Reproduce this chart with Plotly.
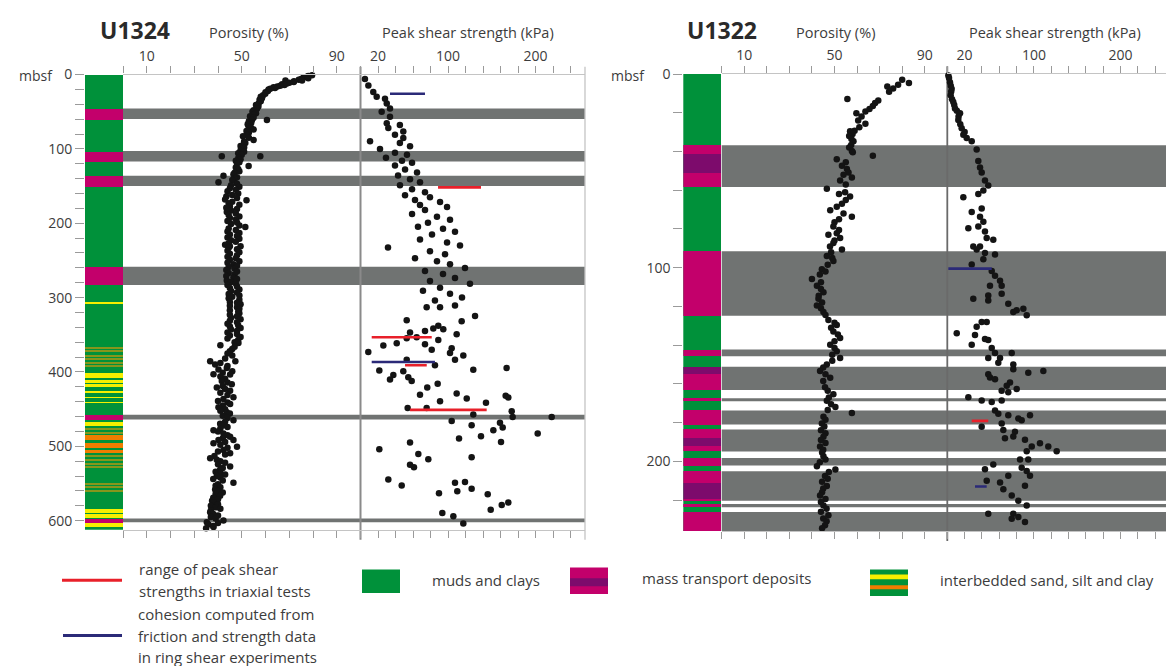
import plotly.graph_objects as go

# ------------------------------------------------------------------
# Canvas helpers (pixel -> paper fraction)
# ------------------------------------------------------------------
W, H = 1166, 666


def px_x(p):
    return p / W


def px_y(p):
    return 1 - p / H


FONT = "Open Sans"
TXT = "#3c3c3c"
GREEN = "#00913a"
MAGENTA = "#c3006b"
PURPLE = "#7d0b6c"
YELLOW = "#f6ef00"
ORANGE = "#ef7d00"
OLIVE = "#86961c"
BAND = "#707372"
RED = "#e8202a"
NAVY = "#2b2a78"

# ------------------------------------------------------------------
# Site U1324 data
# ------------------------------------------------------------------
u1324_depth_max = 612.2

# lithology intervals (top, base) in mbsf
u1324_mud = [(0, 612.2)]
u1324_mtd = [(45.7, 59.9), (103, 117), (136, 150), (258.5, 283), (457.5, 464), (597, 602)]
u1324_sand = [(306.5, 308), (401, 407), (410, 414), (416, 420), (426, 427), (433, 434),
              (440, 441), (467, 472), (584, 589), (591, 596), (603, 608)]
u1324_silt = [(484, 491), (495, 502), (504, 508)]
u1324_thin = [(366, 367.5), (371, 372.5), (377, 378.5), (381, 382.5), (387, 388.5),
              (391, 392.5), (476, 477.5), (480.5, 482), (512, 513.5), (517, 518.5),
              (522, 523.5), (527, 528.5), (549, 550.5), (553, 554.5), (559, 560.5)]

# porosity (%) : (depth mbsf, value)
u1324_porosity = [
    (1, 79.6), (2, 78), (3, 77.5), (4, 76), (5, 78), (6, 75), (7, 74), (8, 75.4), (8, 68.4), (9, 72),
    (10, 71.9), (11, 70), (12, 69), (13, 67), (14, 68), (15, 66.2), (16, 65), (17, 63.4), (18, 64), (19, 62),
    (20, 61.3), (22, 61), (24, 60), (26, 59.9), (28, 59), (30, 58), (32, 58.5), (34, 57.5), (36, 58), (39, 57.1),
    (41, 56), (43, 57), (46, 56.4), (48, 55), (50, 54.5), (52, 56), (54, 55), (56, 53.5), (58, 55), (61, 54.3),
    (61, 60.6), (63, 53), (65, 54), (67, 52.5), (70, 52.9), (72, 54), (74, 55), (76, 52), (78, 53), (81, 52.1),
    (83, 50.5), (85, 53), (88, 55), (90, 51), (92, 51.5), (94, 50.8), (96, 49.5), (98, 51), (100, 50), (102, 49.5),
    (104, 51), (106, 48.5), (108, 50), (110, 41.6), (110, 57.8), (112, 48.6), (114, 49.5), (116, 47.5), (118, 49),
    (120, 48), (123, 52.9), (125, 47.5), (127, 48.5), (130, 49), (132, 47), (134, 46.5), (136, 42.3), (138, 48),
    (140, 47), (142, 46), (145, 40.2), (147, 48), (149, 45.5),
    (151, 49), (153, 45), (155, 47.5), (157, 44), (160, 48.5), (162, 46), (164, 43.5), (166, 48), (168, 43),
    (169, 52), (171, 46), (173, 44.5), (175, 49), (177, 45), (179, 43.5), (181, 48), (183, 45.5), (185, 43.7),
    (187, 47.5), (189, 44.5), (191, 49), (193, 45), (195, 47.5), (197, 44), (199, 48), (201, 45.5), (203, 49),
    (205, 51.5), (207, 44.5), (209, 47.5), (211, 44), (213, 49), (215, 45), (217, 48), (219, 44), (221, 49),
    (223, 45.5), (225, 47.5), (227, 44.5), (229, 43), (231, 45), (231, 49.5), (233, 44.5), (235, 48), (237, 44),
    (239, 49), (241, 45), (243, 48), (245, 44), (247, 47.5), (249, 45), (251, 49), (253, 44), (255, 46.5),
    (257, 48), (259, 44.5), (261, 47), (263, 43.5), (265, 48), (267, 44.5), (269, 47), (271, 43.5), (273, 46.5),
    (275, 48), (277, 43.7), (279, 45.5), (281, 47.5), (283, 44), (285, 48), (287, 45), (289, 49), (291, 45.5),
    (293, 48), (295, 44.5), (297, 49), (299, 46), (301, 44.5), (303, 49), (306, 45), (307, 48), (309, 49.5),
    (311, 45), (313, 48), (315, 49), (317, 45), (319, 48.5), (321, 49), (323, 45), (325, 48), (327, 45.5),
    (329, 49.5), (331, 45), (333, 48), (335, 44), (337, 48.5), (339, 45), (341, 49.5), (343, 45.5), (345, 48),
    (347, 44), (349, 48), (351, 45), (353, 49.5), (355, 44), (357, 48.5), (360, 47),
    (361, 48.6), (364, 41), (366, 47), (369, 46), (372, 45), (375, 44), (378, 46), (382, 43), (385.6, 36.7),
    (385.6, 47.3), (388, 41), (390, 38.8), (392, 44), (394.5, 43.7), (396.7, 40.2), (399, 46), (401, 42),
    (403, 38.1), (403.3, 45.1), (406, 41), (409, 43), (412, 41.6), (414, 44), (416.6, 45.8), (419, 42),
    (421, 39.5), (423, 43), (425.4, 45.1), (428, 41), (431, 44), (434, 46.5), (436.4, 42.3), (439, 40),
    (441, 44), (443, 45.1), (445, 42), (447.4, 40.2), (450, 43), (452, 41), (454, 43.7), (456, 45), (459, 42),
    (462, 44), (465, 46.5), (467, 43), (469.5, 40.9), (472, 42), (474, 44), (476, 41), (478.4, 38.1), (480, 40),
    (482.8, 42.3), (485, 44), (487.2, 45.1), (489, 42), (491.6, 40.2), (491.6, 46.5), (494, 43), (496, 38.1),
    (498, 41), (500.4, 48), (502, 44), (505, 42.3), (507, 40), (509.3, 45.1), (511, 43), (513, 38.5),
    (516, 36.7), (518, 39.5), (520, 41), (522, 43), (524, 40), (527, 45.1), (529, 42), (531.4, 40.9), (534, 39),
    (536, 41), (538, 43), (540, 39.5), (542, 41), (544, 38), (546, 42), (549, 46.5), (551, 40), (553, 39),
    (555, 41), (558, 38.8), (560, 40), (562, 42), (564, 39), (566.6, 40.9), (569, 38), (571, 40), (573, 37.5),
    (575.5, 38.1), (578, 40), (580, 37), (582, 39), (584, 41), (586, 37), (588.7, 36.7), (591, 38), (593, 40),
    (595, 37), (597, 39), (599.7, 42.3), (602, 35.3), (603, 40), (605, 36), (607, 38), (608.6, 38.1), (610, 35),
]

# peak shear strength (kPa) : (depth mbsf, value)
u1324_shear = [
    (6, 5.1), (14.8, 9), (23.6, 14.6), (30, 18.5), (32.5, 28), (39, 30), (45.7, 33.7), (50, 24.2), (56.7, 33.7),
    (65.6, 30), (67.8, 45), (72, 31.8), (76.6, 48.9), (81, 39.4), (85.4, 48.9), (89.8, 10.9), (92, 45), (96.4, 56.6),
    (100, 22.3), (105.3, 39.4), (108, 53.1), (112, 29.1), (116, 47.4), (118.5, 58.9), (122.5, 39.4), (127.8, 50.9),
    (131.8, 64.6), (135.8, 42.9), (141, 56.6), (145, 68), (149, 45.1), (154.3, 58.9), (158.3, 73.7), (162.3, 50.9),
    (165, 79.4), (168.9, 62.3), (171.5, 90.9), (175.5, 68), (178.1, 98.9), (182.1, 73.7), (187.4, 58.9),
    (191.4, 87.4), (195.4, 102.3), (199.3, 77.1), (204.6, 65.7), (207.3, 94.3), (211.3, 108), (215.2, 81.7),
    (221.9, 68), (225.8, 98.9), (229.8, 113.7), (232.5, 31.4), (237.7, 79.4), (241.7, 96.6), (247, 62.3),
    (251, 87.4), (255, 102.3), (260.3, 119.4), (264.2, 73.7), (268.2, 94.3), (273.5, 108), (277.5, 79.4),
    (281.5, 125.1), (286.8, 90.9), (290.7, 71.4), (294.7, 102.3), (300, 116), (304, 85.1), (310.6, 108),
    (312.8, 75.6), (312.8, 90.9), (324.7, 130.9), (330.5, 52.8), (331.8, 115.6), (346.8, 56.6), (345, 73.7),
    (341.5, 83.2), (338, 88.9), (342.4, 94.6), (349.4, 109.9), (364.5, 26.1), (361.4, 41.4), (354.7, 52.8),
    (353.4, 64.2), (362.7, 73.7), (370.2, 81.4), (357, 88.9), (368, 104.2), (374.6, 102.3), (377.7, 117.5),
    (383.4, 108), (373.3, 8.9), (383.4, 52.8), (391, 85.1), (397, 128.9), (394.5, 167), (398, 21.5), (399, 48.9),
    (404.2, 37.5), (410, 33.7), (407, 54.6), (412.2, 58.5), (430.7, 68), (421, 76.3), (415.7, 88.2),
    (428.9, 109.9), (435.5, 121.4), (441.3, 143.4), (432, 165.9), (434.2, 168.9), (448.3, 53.9), (448.3, 75.6),
    (439.5, 90.9), (457.2, 128.9), (452.7, 172.8), (460.7, 173.9), (460.7, 218.5), (466, 104.2), (471.7, 127),
    (468.2, 159.4), (478.4, 151.8), (474.8, 162.5), (494.3, 160.6), (486.3, 137.7), (489.4, 112.6),
    (482.8, 202.5), (504, 21.5), (495, 56.6), (510.2, 66.1), (517.2, 77.5), (524.8, 56.6), (528.2, 61.1),
    (514.6, 127), (544.6, 31.8), (552.6, 47.1), (549, 108), (548.1, 119.4), (560.5, 110.6), (557, 127),
    (563.2, 89.7), (564.5, 145.4), (585.2, 148.8), (579, 161.4), (575.5, 168.9), (589.7, 93.5), (594, 106.1),
    (603.7, 117.5),
]

# triaxial peak-strength ranges and ring-shear cohesion (depth, low kPa, high kPa)
u1324_triaxial = [(151.7, 88.6, 137.7), (353.4, 12.8, 81.4), (391, 50.9, 75.7), (451, 56.6, 144.2)]
u1324_ring = [(25.8, 33.7, 73.7), (386.5, 12.8, 85.1)]

# ------------------------------------------------------------------
# Site U1322 data
# ------------------------------------------------------------------
u1322_depth_max = 236

u1322_mud = [(0, 236)]
u1322_mtd = [(36.8, 41.5), (51.3, 58.4), (91.5, 124.8), (142.3, 145.7), (155, 163.2), (167.4, 169),
             (173.7, 181), (183.5, 188.1), (192.3, 194.9), (198.3, 202.2), (205.1, 211),
             (219.5, 220.3), (222, 223.7), (226.2, 236)]
u1322_mtd_dark = [(41.5, 51.3), (151.1, 155), (188.1, 192.3), (211, 219.5)]

u1322_porosity = [
    (3, 80), (4.6, 83), (5.5, 78.2), (6.4, 73.4), (7.5, 76), (9.2, 74.2), (12.9, 55.7), (13.7, 69.4), (15, 68),
    (16.5, 67), (18, 65.5), (19.3, 63.7), (20.2, 59.7), (22, 62), (24, 60.5), (25.7, 63.7), (27.5, 61),
    (29.3, 58.9), (29.6, 56.9), (31, 58), (32, 56.5), (33.5, 57.5), (34.7, 58.4), (36.6, 57.4), (38, 56.5),
    (39.8, 57.7), (40.4, 58.1), (42.2, 67), (44, 51), (45.5, 55), (47.4, 53.3), (49, 55.5), (50.8, 56.2),
    (52, 54), (53.4, 57.7), (55, 52.5), (57, 55), (59.3, 46.6), (61, 54.7), (62, 52), (63.3, 56.9), (65, 55),
    (67, 53.3), (68.5, 51), (70.3, 48.1), (72, 54), (73.7, 57.7), (75, 52), (76.5, 50), (78.8, 49.5),
    (80.5, 52), (82.2, 51), (83, 47.3), (84.7, 52.5), (86, 50), (87.3, 49.5), (89, 48), (90.6, 53.3), (92, 48.5),
    (94, 46.6), (95, 49), (96.6, 49.5), (98.5, 47), (100.8, 44.4), (102, 46), (103.5, 43.5), (105.9, 40),
    (107.5, 44), (109.3, 42.2), (111, 44), (112.7, 45.1), (114.5, 43), (116, 42.9), (118, 44.5), (119.5, 42.2),
    (121, 44), (122.9, 45.1), (124.5, 46), (127, 47.3), (128.5, 50), (129.6, 51), (131, 48.5), (133, 49.5),
    (134.5, 51.5), (136.3, 52.5), (138, 50), (139.8, 48.1), (141.5, 50), (143.2, 51), (145, 49), (146.6, 52.5),
    (148, 49), (150, 46.6), (151.5, 45), (153.4, 43.6), (155, 46), (156.8, 48.1), (158.5, 45), (161.8, 45.8),
    (163.5, 47), (165.3, 49.5), (167, 47.5), (168.7, 46.6), (170.5, 48.5), (172, 50.4), (173.5, 47), (175, 57.7),
    (177, 45.1), (178.5, 46), (180.5, 44.4), (182, 45.5), (184, 44), (185.5, 46), (187.3, 45.1), (189, 44),
    (190.5, 46), (192.3, 43.6), (194, 45), (195.5, 44.5), (197.4, 45.1), (199, 46), (200.5, 43.5), (202.5, 42.2),
    (204.2, 50.4), (205.5, 47.5), (207.6, 45.8), (209, 47), (210.5, 44.5), (212.7, 46.6), (214, 45),
    (216, 44.5), (217.7, 43.6), (219.5, 46), (221, 44), (222.8, 45.1), (224.5, 46.5), (226, 44), (227.9, 47.3),
    (229.5, 45), (231, 46.5), (233, 45.8), (234.5, 44.5),
]

u1322_shear = [
    (0.8, 1.2), (2, 2), (4.2, 3.1), (6, 4), (7.6, 5), (9, 4.5), (11, 3.9), (13, 5.5), (14.4, 6.9), (16, 8),
    (17.8, 8.9), (19, 11), (20.3, 14.7), (22, 13), (23.7, 12.7), (26, 15), (28, 16.6), (30, 20), (31.4, 18.5),
    (33, 22.4), (34.7, 28.2), (39, 33.9), (44.9, 35.8), (48.3, 37.8), (50.8, 39.7), (55, 43.5), (57.6, 47.3),
    (60.1, 41.6), (61.9, 35.8), (63.6, 18.5), (69.5, 39.7), (71.2, 28.2), (73.7, 37.8), (76.3, 41.6),
    (79.7, 24.3), (78.8, 35.8), (81.3, 43.5), (84.7, 45.5), (85.6, 53.1), (89, 30), (89, 37.8), (90.6, 33.9),
    (92.4, 43.5), (93.2, 55.1), (95.7, 41.6), (98.3, 28.2), (101.7, 51.3), (104.2, 55.1), (106.8, 60.9),
    (109.3, 49.3), (109.3, 62.8), (113.5, 62.8), (114.4, 47.3), (116.1, 30), (116.9, 47.3), (118.6, 70.4),
    (122, 80.1), (122.9, 76.2), (121.2, 87.8), (124.6, 91.7), (128, 39.7), (128, 45.5), (130.5, 33.9),
    (133.9, 10.9), (134.7, 32), (136.8, 43.5), (137.3, 47.3), (139.8, 28.2), (141.5, 51.3), (144, 55.1),
    (144, 74.4), (146.6, 47.3), (146.6, 60.9), (149.1, 58.9), (150, 76.2), (152.5, 76.2), (154.2, 93.5),
    (153.3, 110.9), (155, 47.3), (156.7, 49.3), (157.6, 55.1), (159.3, 72.4), (161, 68.6), (162.7, 80.1),
    (163.5, 62.8), (164.3, 70.4), (166.9, 24.3), (168.6, 39.7), (169.4, 51.3), (168.6, 62.8), (173.7, 55.1),
    (175.4, 58.9), (176.2, 70.4), (177.9, 82), (176.2, 95.5), (178.8, 85.9), (182.1, 39.7), (180.5, 62.8),
    (183.8, 64.7), (184.7, 78.2), (187.2, 76.2), (188.1, 66.6), (188.9, 89.7), (192.3, 97.5), (194.8, 91.7),
    (190.6, 107), (192.3, 116.6), (194.8, 126.3), (199, 84), (199, 93.5), (201.6, 53.1), (204.1, 43.5),
    (203.3, 85.9), (205, 91.7), (207.5, 70.4), (207.5, 95.5), (210.9, 60.9), (210, 45.5), (212.6, 89.7),
    (214.4, 64.7), (217.7, 74.4), (220.3, 82), (222.8, 91.7), (227.1, 47.3), (227.1, 76.2), (228.8, 82),
    (231.3, 89.7), (229.6, 74.4),
]

u1322_triaxial = [(179.1, 28.2, 47.3)]
u1322_ring = [(100.5, 1.2, 51.3), (213, 32, 45.5)]

# ------------------------------------------------------------------
# Track geometry (pixels)
# ------------------------------------------------------------------
L_LITHO = (85, 123)
L_POR = (123, 360.5)
L_SHEAR = (360.5, 585)
L_TOP, L_BOT = 65.5, 527.7
R_LITHO = (683.3, 721.7)
R_POR = (721.7, 947.3)
R_SHEAR = (947.3, 1166)
R_TOP, R_BOT = 65, 529

L_SHEAR_MAX = (585 - 360.5) / 0.875
R_SHEAR_MAX = (1166 - 947.3) / 0.866


def litho_bar(intervals, color, xa, ya):
    return go.Bar(
        x=[0.5] * len(intervals),
        y=[b - t for t, b in intervals],
        base=[t for t, b in intervals],
        width=[1] * len(intervals),
        marker=dict(color=color, line=dict(width=0)),
        xaxis=xa, yaxis=ya, hoverinfo="skip", showlegend=False,
    )


def points(pairs, xa, ya):
    return go.Scatter(
        x=[v for d, v in pairs], y=[d for d, v in pairs], mode="markers",
        marker=dict(size=6.5, color="#141414", line=dict(width=0)),
        xaxis=xa, yaxis=ya, hoverinfo="skip", showlegend=False, cliponaxis=False,
    )


def ranges(rows, color, xa, ya):
    xs, ys = [], []
    for d, lo, hi in rows:
        xs += [lo, hi, None]
        ys += [d, d, None]
    return go.Scatter(x=xs, y=ys, mode="lines", line=dict(color=color, width=2.6),
                      xaxis=xa, yaxis=ya, hoverinfo="skip", showlegend=False)


def merge(intervals):
    out = []
    for t, b in sorted(intervals):
        if out and t <= out[-1][1] + 0.05:
            out[-1] = (out[-1][0], max(out[-1][1], b))
        else:
            out.append((t, b))
    return out


fig = go.Figure()

# lithology columns
fig.add_trace(litho_bar(u1324_mud, GREEN, "x", "y"))
fig.add_trace(litho_bar(u1324_thin, OLIVE, "x", "y"))
fig.add_trace(litho_bar(u1324_sand, YELLOW, "x", "y"))
fig.add_trace(litho_bar(u1324_silt, ORANGE, "x", "y"))
fig.add_trace(litho_bar(u1324_mtd, MAGENTA, "x", "y"))
fig.add_trace(litho_bar(u1322_mud, GREEN, "x4", "y2"))
fig.add_trace(litho_bar(u1322_mtd, MAGENTA, "x4", "y2"))
fig.add_trace(litho_bar(u1322_mtd_dark, PURPLE, "x4", "y2"))

# measurements
fig.add_trace(points(u1324_porosity, "x2", "y"))
fig.add_trace(points(u1324_shear, "x3", "y"))
fig.add_trace(ranges(u1324_triaxial, RED, "x3", "y"))
fig.add_trace(ranges(u1324_ring, NAVY, "x3", "y"))
fig.add_trace(points(u1322_porosity, "x5", "y2"))
fig.add_trace(points(u1322_shear, "x6", "y2"))
fig.add_trace(ranges(u1322_triaxial, RED, "x6", "y2"))
fig.add_trace(ranges(u1322_ring, NAVY, "x6", "y2"))

# ------------------------------------------------------------------
# Shapes: MTD bands across the tracks, track borders, legend swatches
# ------------------------------------------------------------------
shapes = []
for t, b in merge(u1324_mtd):
    shapes.append(dict(type="rect", xref="paper", yref="y", x0=px_x(L_POR[0]), x1=px_x(L_SHEAR[1]),
                       y0=t, y1=b, fillcolor=BAND, line=dict(width=0), layer="below"))
for t, b in merge(u1322_mtd + u1322_mtd_dark):
    shapes.append(dict(type="rect", xref="paper", yref="y2", x0=px_x(R_POR[0]), x1=1.0,
                       y0=t, y1=b, fillcolor=BAND, line=dict(width=0), layer="below"))

for xp, col, wid in [(L_SHEAR[0], "#8a8a8a", 2), (L_SHEAR[1], "#c4c4c4", 1.3),
                     (R_SHEAR[0], "#6a6a6a", 1.8)]:
    top, bot = (L_TOP, L_BOT) if xp < 600 else (R_TOP, R_BOT)
    shapes.append(dict(type="line", xref="paper", yref="paper", x0=px_x(xp), x1=px_x(xp),
                       y0=px_y(top - 8), y1=px_y(bot + 10), line=dict(color=col, width=wid),
                       layer="below"))

# legend swatches
shapes += [
    dict(type="line", xref="paper", yref="paper", x0=px_x(62), x1=px_x(122), y0=px_y(579), y1=px_y(579),
         line=dict(color=RED, width=3)),
    dict(type="line", xref="paper", yref="paper", x0=px_x(63), x1=px_x(122), y0=px_y(635), y1=px_y(635),
         line=dict(color=NAVY, width=3)),
    dict(type="rect", xref="paper", yref="paper", x0=px_x(362), x1=px_x(400), y0=px_y(592), y1=px_y(568),
         fillcolor=GREEN, line=dict(width=0)),
    dict(type="rect", xref="paper", yref="paper", x0=px_x(570), x1=px_x(608), y0=px_y(593), y1=px_y(566),
         fillcolor=MAGENTA, line=dict(width=0)),
    dict(type="rect", xref="paper", yref="paper", x0=px_x(570), x1=px_x(608), y0=px_y(585), y1=px_y(577),
         fillcolor=PURPLE, line=dict(width=0)),
    dict(type="rect", xref="paper", yref="paper", x0=px_x(870), x1=px_x(908), y0=px_y(595), y1=px_y(568),
         fillcolor=GREEN, line=dict(width=0)),
    dict(type="rect", xref="paper", yref="paper", x0=px_x(870), x1=px_x(908), y0=px_y(578), y1=px_y(573),
         fillcolor=YELLOW, line=dict(width=0)),
    dict(type="rect", xref="paper", yref="paper", x0=px_x(870), x1=px_x(908), y0=px_y(588), y1=px_y(584),
         fillcolor=ORANGE, line=dict(width=0)),
]


def note(text, x, y, size=14, xanchor="center", color=TXT):
    return dict(text=text, x=px_x(x), y=px_y(y), xref="paper", yref="paper", showarrow=False,
                xanchor=xanchor, yanchor="middle", font=dict(family=FONT, size=size, color=color))


LEG = 15
annotations = [
    note("<b>U1324</b>", 135, 20, size=23, color="#2a2a2a"),
    note("Porosity (%)", 248, 23, size=14.5),
    note("Peak shear strength (kPa)", 468, 23, size=14.5),
    note("<b>U1322</b>", 722, 20, size=23, color="#2a2a2a"),
    note("Porosity (%)", 835, 23, size=14.5),
    note("Peak shear strength (kPa)", 1055, 23, size=14.5),
    note("mbsf", 36, 67),
    note("mbsf", 628, 67),
    note("range of peak shear", 137, 568, size=LEG, xanchor="left"),
    note("strengths in triaxial tests", 137, 590, size=LEG, xanchor="left"),
    note("cohesion computed from", 136, 613, size=LEG, xanchor="left"),
    note("friction and strength data", 136, 636, size=LEG, xanchor="left"),
    note("in ring shear experiments", 136, 657, size=LEG, xanchor="left"),
    note("muds and clays", 430, 579, size=LEG, xanchor="left"),
    note("mass transport deposits", 640, 577, size=LEG, xanchor="left"),
    note("interbedded sand, silt and clay", 938, 579, size=LEG, xanchor="left"),
]

# ------------------------------------------------------------------
# Axes
# ------------------------------------------------------------------
TICKFONT = dict(family=FONT, size=14, color=TXT)


def labelled(vals, shown):
    return [str(v) if v in shown else "" for v in vals]


def track_axis(domain, rng, vals, shown, anchor):
    return dict(domain=[px_x(domain[0]), px_x(domain[1])], range=rng, anchor=anchor, side="top",
                tickmode="array", tickvals=vals, ticktext=labelled(vals, shown),
                ticks="outside", ticklen=7, tickwidth=1, tickcolor="#9a9a9a",
                showline=True, linecolor="#c4c4c4", linewidth=1.3, mirror="ticks",
                showgrid=False, zeroline=False, tickfont=TICKFONT, fixedrange=True)


def depth_axis(top, bot, dmax, step_labels, anchor):
    vals = list(range(0, int(dmax) + 1, 20))
    return dict(domain=[px_y(bot), px_y(top)], range=[dmax, 0], anchor=anchor,
                tickmode="array", tickvals=vals, ticktext=labelled(vals, step_labels),
                ticks="outside", ticklen=9, tickwidth=1, tickcolor="#9a9a9a",
                showline=False, showgrid=False, zeroline=False, tickfont=TICKFONT, fixedrange=True)


por_ticks = list(range(0, 101, 10))
shear_ticks = list(range(0, 241, 20))

fig.update_layout(
    width=W, height=H, margin=dict(l=0, r=0, t=0, b=0),
    paper_bgcolor="white", plot_bgcolor="rgba(0,0,0,0)",
    barmode="overlay", bargap=0, showlegend=False,
    font=dict(family=FONT, color=TXT),
    xaxis=dict(domain=[px_x(L_LITHO[0]), px_x(L_LITHO[1])], range=[0, 1], anchor="y", visible=False,
               fixedrange=True),
    xaxis2=track_axis(L_POR, [0, 100], por_ticks, {10, 50, 90}, "y"),
    xaxis3=track_axis(L_SHEAR, [0, L_SHEAR_MAX], shear_ticks, {20, 100, 200}, "y"),
    xaxis4=dict(domain=[px_x(R_LITHO[0]), px_x(R_LITHO[1])], range=[0, 1], anchor="y2", visible=False,
                fixedrange=True),
    xaxis5=track_axis(R_POR, [0, 100], por_ticks, {10, 50, 90}, "y2"),
    xaxis6=track_axis(R_SHEAR, [0, R_SHEAR_MAX], shear_ticks, {20, 100, 200}, "y2"),
    yaxis=depth_axis(L_TOP, L_BOT, u1324_depth_max, {0, 100, 200, 300, 400, 500, 600}, "x"),
    yaxis2=depth_axis(R_TOP, R_BOT, u1322_depth_max, {0, 100, 200}, "x4"),
    shapes=shapes,
    annotations=annotations,
)

# the page body gets no default margin so the figure sits flush at the top-left corner
fig.write_html("out.html", post_script="document.body.style.margin = '0px';")
